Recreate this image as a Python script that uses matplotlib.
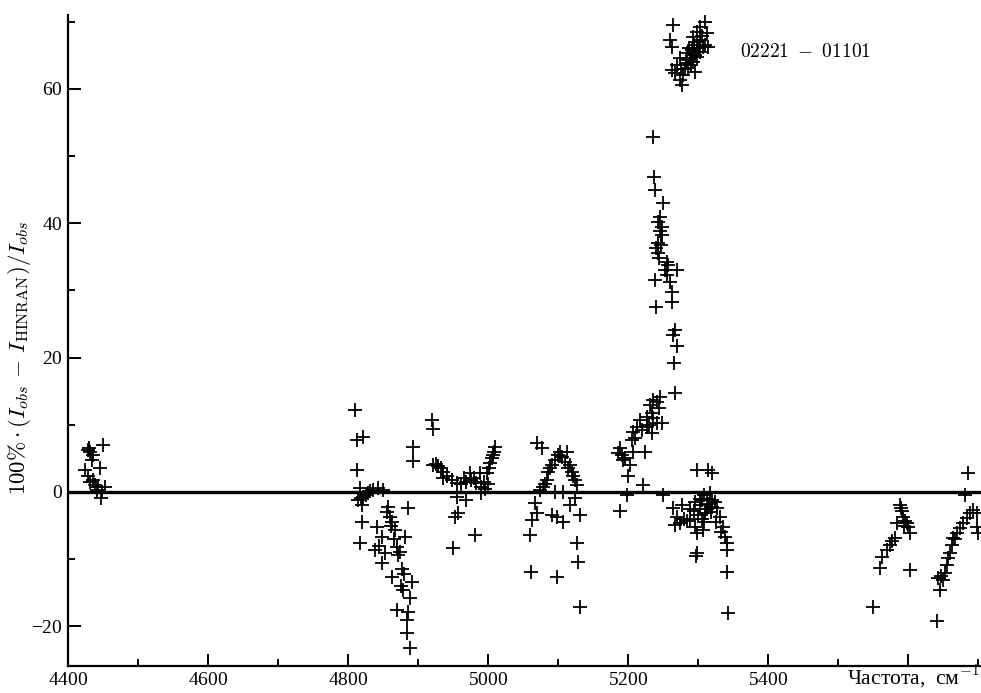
import numpy as np
import matplotlib.pyplot as plt
from matplotlib.ticker import MultipleLocator

plt.rcParams['font.family'] = 'serif'
plt.rcParams['font.serif'] = ['Liberation Serif', 'DejaVu Serif']
plt.rcParams['mathtext.fontset'] = 'cm'
plt.rcParams['axes.formatter.use_mathtext'] = True

# (frequency, cm^-1 ; deviation, %), band by band
band_4430 = [(4425, 3.3), (4428, 6.2), (4430, 6.5), (4431, 6.0), (4434, 4.8), (4436, 5.5),
             (4429, 2.3), (4432, 1.5), (4436, 1.8), (4439, 1.0), (4441, 0.3), (4443, 0.8),
             (4446, 3.6), (4447, -0.9), (4449, 0.0), (4450, 7.0), (4453, 0.8)]

band_4850 = [(4810, 12.2), (4821, 8.2), (4813, 7.7), (4813, 3.3), (4817, 0.6), (4814, -1.2),
             (4821, -0.7), (4829, -0.2), (4836, 0.3), (4843, 0.6), (4850, 0.3), (4820, -1.9),
             (4818, -0.9), (4825, -0.4), (4832, 0.1), (4820, -4.5), (4841, -5.2), (4857, -2.2),
             (4860, -3.7), (4863, -4.5), (4867, -5.7), (4881, -6.7), (4848, -6.7), (4817, -7.6),
             (4839, -8.6), (4844, -8.0), (4853, -9.1), (4870, -8.2), (4871, -9.4), (4848, -10.6),
             (4863, -12.6), (4879, -14.6), (4891, -13.4), (4889, -15.8), (4870, -17.6),
             (4886, -17.9), (4884, -19.0), (4884, -21.0), (4889, -23.2), (4893, 6.7), (4893, 4.6),
             (4886, -2.4), (4855, -3.0), (4862, -5.0), (4866, -7.0), (4874, -9.0), (4877, -11.5),
             (4880, -12.2), (4876, -14.0)]

band_4960 = [(4920, 10.7), (4922, 9.4), (4922, 4.0), (4926, 4.2), (4929, 3.8), (4933, 3.5),
             (4936, 3.0), (4941, 2.3), (4948, 1.8), (4955, 1.3), (4962, 1.2), (4969, 1.5),
             (4976, 1.8), (4983, 1.3), (4990, 0.7), (4994, 1.5), (4998, 2.8), (5003, 4.3),
             (5005, 5.0), (5007, 5.5), (5010, 6.7), (5008, 6.0), (5001, 3.5), (4989, 2.8),
             (4974, 2.8), (4980, 2.0), (4965, 2.0), (4955, -0.7), (4969, -1.2), (4957, -3.2),
             (4953, -3.7), (4981, -6.4), (4950, -8.4), (4936, 2.1), (4990, -0.2), (4996, 0.5),
             (5000, 1.2)]

band_5100 = [(5070, 7.3), (5077, 6.5), (5074, 0.3), (5067, -1.6), (5070, -3.2), (5063, -4.2),
             (5060, -6.4), (5061, -11.9), (5079, 0.8), (5084, 1.8), (5091, 4.0), (5086, 3.0),
             (5096, 4.8), (5103, 6.0), (5113, 6.0), (5110, 4.5), (5114, 3.6), (5120, 3.0),
             (5121, 2.3), (5124, 1.8), (5096, 0.0), (5107, 0.0), (5091, -3.4), (5098, -3.7),
             (5107, -4.5), (5117, -1.9), (5124, -0.9), (5131, -3.4), (5127, -7.6), (5129, -10.4),
             (5131, -17.1), (5098, -12.6), (5082, 1.2), (5088, 3.5), (5100, 5.5), (5106, 5.2),
             (5117, 4.0), (5127, 1.0)]

band_5220 = [(5267, 14.7), (5246, 14.1), (5241, 13.4), (5231, 12.9), (5234, 11.8), (5227, 11.2),
             (5217, 10.7), (5241, 10.3), (5249, 10.3), (5213, 9.7), (5227, 9.7), (5220, 9.2),
             (5207, 8.9), (5234, 8.8), (5206, 7.7), (5189, 6.5), (5191, 5.5), (5196, 5.1),
             (5207, 6.0), (5224, 6.0), (5203, 4.0), (5200, 2.3), (5221, 1.0), (5199, -0.5),
             (5189, -2.9), (5250, -0.5), (5186, 5.8), (5193, 4.8), (5210, 8.0), (5236, 11.0),
             (5230, 10.0), (5244, 12.5), (5236, 13.7)]

band_5250 = [(5236, 52.8), (5237, 46.9), (5239, 44.9), (5250, 43.0), (5246, 40.9), (5243, 40.2),
             (5249, 39.4), (5249, 38.2), (5243, 37.0), (5240, 36.3), (5243, 35.6), (5244, 34.8),
             (5256, 34.2), (5257, 33.8), (5270, 33.0), (5256, 32.3), (5260, 31.3), (5239, 31.5),
             (5263, 29.8), (5263, 28.3), (5240, 27.5), (5267, 24.1), (5264, 23.4), (5270, 21.7),
             (5266, 19.2), (5245, 38.8), (5247, 36.8), (5252, 33.0)]

band_5290 = [(5264, 69.5), (5260, 67.3), (5263, 66.2), (5310, 70.0), (5303, 69.2), (5298, 68.5),
             (5313, 68.3), (5293, 67.7), (5303, 67.3), (5314, 66.2), (5284, 65.3), (5291, 65.8),
             (5274, 64.6), (5298, 64.7), (5307, 66.2), (5263, 62.8), (5267, 62.4), (5279, 62.0),
             (5277, 60.6), (5286, 63.1), (5296, 62.5), (5284, 63.8), (5274, 61.3), (5288, 64.5),
             (5294, 66.5), (5300, 66.0), (5296, 65.0), (5281, 63.0), (5290, 63.5), (5302, 65.5),
             (5306, 67.8), (5282, 64.2), (5287, 66.0), (5292, 64.0), (5299, 67.0), (5270, 63.5),
             (5276, 63.0), (5310, 66.5)]

band_5310 = [(5298, 3.3), (5314, 3.3), (5320, 2.8), (5317, -0.2), (5264, -2.4), (5277, -1.9),
             (5267, -4.9), (5274, -4.6), (5284, -4.4), (5289, -4.0), (5296, -5.2), (5299, -6.1),
             (5299, -9.1), (5297, -9.5), (5307, -5.7), (5310, -3.1), (5320, -2.2), (5327, -2.4),
             (5331, -3.7), (5336, -5.2), (5339, -6.7), (5341, -7.6), (5341, -8.6), (5341, -11.9),
             (5343, -18.0), (5306, -1.2), (5313, -1.0), (5320, -1.2), (5303, -2.0), (5309, -0.5),
             (5315, -1.8), (5300, -3.5), (5305, -4.0), (5312, -2.5), (5318, -3.0), (5324, -1.5),
             (5294, -2.8), (5302, -1.0), (5308, -4.5), (5296, -1.5), (5326, -4.5), (5333, -6.0),
             (5280, -4.0), (5270, -3.8), (5289, -2.5)]

band_5580 = [(5550, -17.1), (5560, -11.3), (5563, -9.7), (5570, -8.6), (5574, -7.9), (5581, -6.8),
             (5584, -4.6), (5589, -1.9), (5591, -2.9), (5593, -3.7), (5596, -4.4), (5599, -4.6),
             (5600, -5.2), (5603, -6.1), (5603, -11.6), (5590, -2.4), (5577, -7.3), (5594, -5.0)]

band_5670 = [(5641, -19.2), (5646, -14.6), (5643, -12.8), (5650, -13.1), (5653, -12.1), (5656, -10.9),
             (5657, -9.8), (5660, -9.1), (5663, -7.9), (5664, -6.8), (5670, -6.1), (5674, -5.4),
             (5679, -4.6), (5684, -3.9), (5686, 2.8), (5681, -0.4), (5693, -2.7), (5699, -3.1),
             (5699, -5.2), (5700, -6.1), (5688, -3.2), (5667, -7.0), (5647, -12.5)]

bands = [band_4430, band_4850, band_4960, band_5100, band_5220,
         band_5250, band_5290, band_5310, band_5580, band_5670]

fig = plt.figure(figsize=(9.81, 6.93), dpi=100)
ax = fig.add_axes([0.0693, 0.039, 0.9307, 0.9387])

for b in bands:
    pts = np.array(b)
    ax.plot(pts[:, 0], pts[:, 1], '+', color='black', ms=10, mew=1.3)

ax.axhline(0, color='black', lw=2.4)

ax.set_xlim(4400, 5704)
ax.set_ylim(-25.9, 70.9)
ax.xaxis.set_major_locator(MultipleLocator(200))
ax.xaxis.set_minor_locator(MultipleLocator(100))
ax.yaxis.set_major_locator(MultipleLocator(20))
ax.yaxis.set_minor_locator(MultipleLocator(10))
ax.tick_params(which='both', direction='in', width=1.4, labelsize=14)
ax.tick_params(which='major', length=9)
ax.tick_params(which='minor', length=5)
ax.tick_params(axis='x', pad=4)

for s in ['top', 'right']:
    ax.spines[s].set_visible(False)
for s in ['left', 'bottom']:
    ax.spines[s].set_linewidth(1.6)

# hide the 5600 label, the axis title sits there
fig.canvas.draw()
for lab in ax.get_xticklabels():
    if lab.get_position()[0] == 5600:
        lab.set_visible(False)

ax.set_ylabel(r'$100\%\cdot(I_{obs}\,-\,I_{\mathrm{HINRAN}})/I_{obs}$', fontsize=16.5)
ax.yaxis.set_label_coords(-0.0383, 0.473)

# axis title in the corner, right-aligned so it stays inside the figure
fig.text(0.998, 0.023, 'Частота,  см$^{-1}$', fontsize=15.5, family='Liberation Serif',
         ha='right', va='center')

ax.text(5360, 65.5, r'$\mathrm{02221\ -\ 01101}$', fontsize=14, ha='left', va='center')

fig.savefig('out.png', dpi=100)
